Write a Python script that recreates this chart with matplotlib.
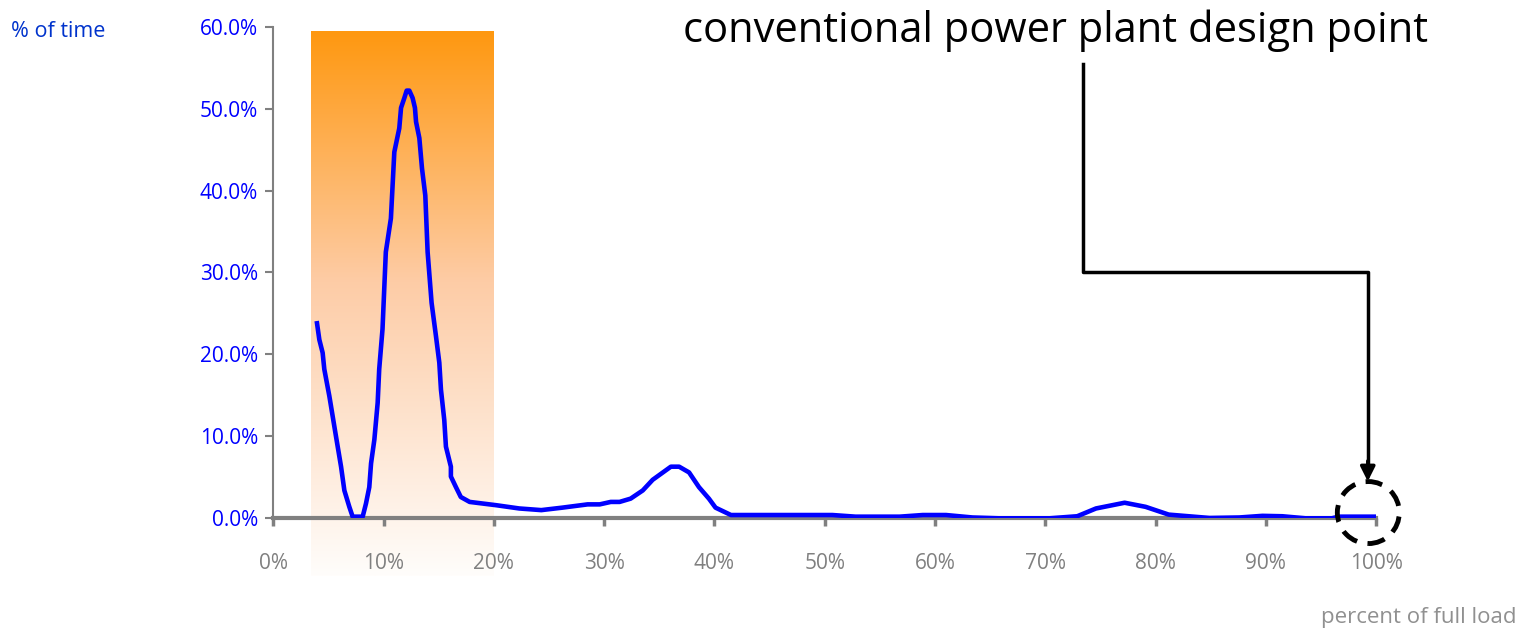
import numpy as np
import matplotlib.pyplot as plt
from matplotlib.colors import LinearSegmentedColormap
from matplotlib.patches import Ellipse
from matplotlib.ticker import FuncFormatter, MultipleLocator

plt.rcParams['font.family'] = ['Open Sans', 'DejaVu Sans']

# load distribution: percent of full load vs. percent of time
load = [3.96, 4.17, 4.47, 4.62, 5.08, 5.68, 6.14, 6.44, 6.89, 7.19, 8.1, 8.4, 8.7,
        8.86, 9.16, 9.46, 9.6, 9.9, 10.2, 10.66, 10.97, 11.42, 11.58, 11.88, 12.09,
        12.33, 12.63, 12.84, 12.94, 13.24, 13.48, 13.78, 13.99, 14.35, 14.75, 15.05,
        15.2, 15.5, 15.65, 16.1, 16.1, 16.56, 17.0, 17.8, 20.2, 22.3, 24.3, 26.2,
        28.5, 29.6, 30.6, 31.4, 32.4, 33.5, 34.4, 36.05, 36.8, 37.7, 38.6, 39.5,
        40.1, 41.5, 44.7, 50.7, 52.8, 56.8, 58.9, 61.0, 63.4, 65.8, 70.4, 72.9,
        74.6, 77.2, 79.1, 81.2, 84.9, 87.6, 89.7, 91.5, 93.6, 96.0, 96.6, 99.9]
time_share = [23.8, 21.8, 20.2, 18.2, 14.9, 10.0, 6.3, 3.4, 1.4, 0.2, 0.2, 1.8, 3.8,
              6.7, 9.6, 14.1, 18.2, 23.1, 32.5, 36.6, 44.7, 47.6, 50.1, 51.3, 52.2,
              52.2, 51.3, 50.1, 48.4, 46.4, 42.7, 39.4, 32.5, 26.3, 22.2, 19.0,
              15.7, 12.0, 8.75, 6.3, 5.1, 3.8, 2.6, 2.0, 1.6, 1.2, 1.0, 1.3,
              1.7, 1.7, 2.0, 2.0, 2.4, 3.4, 4.7, 6.3, 6.3, 5.6, 3.8, 2.4,
              1.3, 0.4, 0.4, 0.4, 0.2, 0.2, 0.4, 0.4, 0.1, 0.0, 0.0, 0.25,
              1.2, 1.9, 1.4, 0.45, 0.04, 0.1, 0.3, 0.25, 0.0, 0.0, 0.2, 0.2]

# shaded low-load band
band_x = [3.42, 20.0]
band_y = [-7.0, 59.5]

fig = plt.figure(figsize=(15.22, 6.31), dpi=100)
ax = fig.add_axes([0.1796, 0.1786, 0.7245, 0.7791])

# orange fading through peach to white, top to bottom
fade = LinearSegmentedColormap.from_list('fade', [
    (0.0, (255/255, 152/255, 16/255)),
    (0.46, (253/255, 204/255, 166/255)),
    (1.0, (255/255, 253/255, 251/255)),
])
grad = np.linspace(0, 1, 256)[:, None]
ax.imshow(grad, cmap=fade, extent=[band_x[0], band_x[1], band_y[0], band_y[1]],
          aspect='auto', origin='upper', clip_on=False, zorder=0, interpolation='bilinear')

ax.plot(load, time_share, color='#0000ff', lw=3.3, solid_joinstyle='round', zorder=3)

ax.set_xlim(0, 100)
ax.set_ylim(0, 60)
ax.xaxis.set_major_locator(MultipleLocator(10))
ax.yaxis.set_major_locator(MultipleLocator(10))
ax.xaxis.set_major_formatter(FuncFormatter(lambda v, p: f"{v:.0f}%"))
ax.yaxis.set_major_formatter(FuncFormatter(lambda v, p: f"{v:.1f}%"))

for s in ['top', 'right']:
    ax.spines[s].set_visible(False)
ax.spines['left'].set_color('#808080')
ax.spines['left'].set_linewidth(1.5)
ax.spines['bottom'].set_color('#808080')
ax.spines['bottom'].set_linewidth(3)
ax.spines['bottom'].set_zorder(2)
ax.tick_params(axis='y', colors='#808080', labelcolor='#0000ff', labelsize=15,
               length=6, width=1.5, direction='out', pad=5)
ax.tick_params(axis='x', colors='#808080', labelcolor='#808080', labelsize=15,
               length=6, width=2.5, direction='out', pad=19)

fig.text(0.0075, 0.9418, "% of time", color='#0033cc', fontsize=15.5, va='baseline', ha='left')
fig.text(0.9967, 0.0132, "percent of full load", color='#909090', fontsize=16,
         va='baseline', ha='right')
fig.text(0.6938, 0.9334, "conventional power plant design point", color='black',
         fontsize=30, va='baseline', ha='center')

# leader line to the design point
ax.plot([73.4, 73.4, 99.25, 99.25], [55.4, 30.0, 30.0, 6.0], color='black', lw=2.5,
        clip_on=False, zorder=4)
ax.annotate('', xy=(99.25, 4.5), xytext=(99.25, 7.0),
            arrowprops=dict(arrowstyle='-|>', color='black', lw=2.5,
                            mutation_scale=22, shrinkA=0, shrinkB=0),
            annotation_clip=False, zorder=4)
ax.add_patch(Ellipse((99.3, 0.7), 5.62, 7.57, fill=False, ec='black', lw=3.5,
                     ls=(0, (3.5, 2.2)), clip_on=False, zorder=5))

fig.savefig('out.png', dpi=100)
